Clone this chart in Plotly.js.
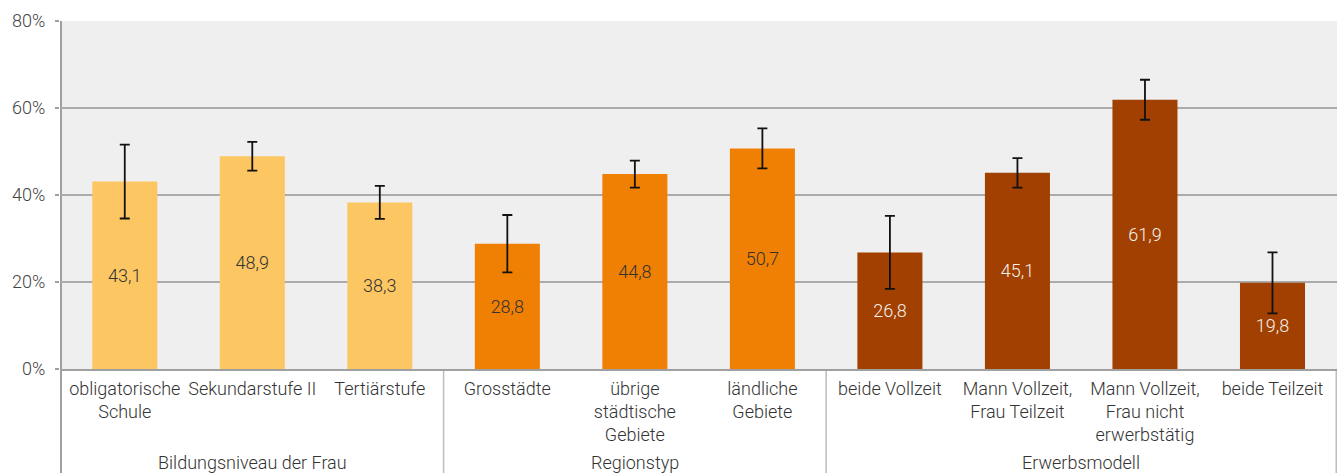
<!DOCTYPE html>
<html>
<head>
<meta charset="utf-8">
<script src="https://cdn.plot.ly/plotly-3.0.1.min.js"></script>
<style>
  html, body { margin: 0; padding: 0; background: #ffffff; }
  #chart { width: 1338px; height: 473px; }
</style>
</head>
<body>
<div id="chart"></div>
<script>
// ---- data ----
const categories = [
  "obligatorische<br>Schule", "Sekundarstufe II", "Tertiärstufe",
  "Grosstädte", "übrige<br>städtische<br>Gebiete", "ländliche<br>Gebiete",
  "beide Vollzeit", "Mann Vollzeit,<br>Frau Teilzeit", "Mann Vollzeit,<br>Frau nicht<br>erwerbstätig", "beide Teilzeit"
];
const values = [43.1, 48.9, 38.3, 28.8, 44.8, 50.7, 26.8, 45.1, 61.9, 19.8];
const errors = [8.5, 3.3, 3.8, 6.6, 3.1, 4.6, 8.4, 3.4, 4.6, 7.0];
const groups = ["Bildungsniveau der Frau", "Regionstyp", "Erwerbsmodell"];
const groupOf = [0, 0, 0, 1, 1, 1, 2, 2, 2, 2];
const yTicks = [0, 20, 40, 60, 80];

// ---- styles ----
const groupColors = ["#FCC663", "#F08003", "#A14000"];
const groupTextColors = ["#333333", "#333333", "#F4F0EC"];
const FONT = "Roboto, 'Noto Sans', sans-serif";

const barColors = groupOf.map(g => groupColors[g]);
const textColors = groupOf.map(g => groupTextColors[g]);
const labels = values.map(v => v.toFixed(1).replace('.', ','));

const trace = {
  type: 'bar',
  x: categories,
  y: values,
  marker: { color: barColors },
  text: labels,
  textposition: 'inside',
  insidetextanchor: 'middle',
  textangle: 0,
  constraintext: 'none',
  textfont: { family: FONT, size: 18, color: textColors, weight: 300 },
  error_y: { type: 'data', array: errors, visible: true, color: '#111111', thickness: 1.8, width: 5 },
  hoverinfo: 'none'
};

// group boundaries and centres (in category index units)
const bounds = [];
const centres = [];
let start = 0;
for (let i = 1; i <= groupOf.length; i++) {
  if (i === groupOf.length || groupOf[i] !== groupOf[i - 1]) {
    bounds.push(start - 0.5);
    centres.push((start + i - 1) / 2);
    start = i;
  }
}
bounds.push(groupOf.length - 0.5);

const shapes = bounds.map((b, i) => ({
  type: 'line', xref: 'x', yref: 'paper',
  x0: b, x1: b, y0: (i === 0) ? 1 : 0, y1: -0.4,
  line: { color: (i === 0) ? '#A0A0A0' : '#BDBDBD', width: (i === 0) ? 2 : 1.5 },
  layer: 'below'
}));

const annotations = groups.map((g, i) => ({
  text: g, xref: 'x', yref: 'paper', x: centres[i], y: -0.268,
  xanchor: 'center', yanchor: 'middle', showarrow: false,
  font: { family: FONT, size: 18, color: '#333333', weight: 300 }
}));

const layout = {
  width: 1338, height: 473,
  margin: { l: 60, r: 1, t: 21, b: 104 },
  paper_bgcolor: '#ffffff',
  plot_bgcolor: '#EFEFEF',
  bargap: 0.49,
  showlegend: false,
  xaxis: {
    type: 'category',
    showgrid: false,
    showline: true, linecolor: '#A0A0A0', linewidth: 2,
    ticks: '',
    tickfont: { family: FONT, size: 18, color: '#333333', weight: 300 },
    ticklabelstandoff: 2,
    fixedrange: true
  },
  yaxis: {
    range: [0, 80],
    tickvals: yTicks,
    ticktext: yTicks.map(v => v + '%'),
    showgrid: true, gridcolor: '#ABABAB', gridwidth: 1.5,
    zeroline: false,
    showline: false,
    ticks: 'outside', ticklen: 4, tickcolor: '#A0A0A0', tickwidth: 1.5,
    tickfont: { family: FONT, size: 18, color: '#444444', weight: 300 },
    ticklabelstandoff: 6,
    fixedrange: true
  },
  shapes: shapes,
  annotations: annotations,
  font: { family: FONT }
};

Plotly.newPlot('chart', [trace], layout, { displayModeBar: false, staticPlot: true });
</script>
</body>
</html>
